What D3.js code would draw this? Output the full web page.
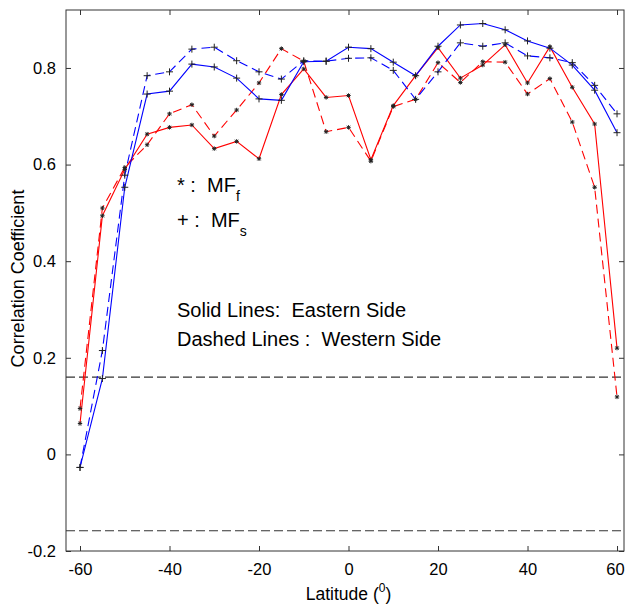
<!DOCTYPE html>
<html>
<head>
<meta charset="utf-8">
<script src="https://cdn.jsdelivr.net/npm/d3@7"></script>
<style>
  html, body { margin: 0; padding: 0; background: #fff; }
  svg { display: block; font-family: "Liberation Sans", Arial, Helvetica, sans-serif; }
  text { white-space: pre; }
</style>
</head>
<body>
<svg id="chart" width="625" height="607"></svg>
<script>
// Latitudes (degrees) at which correlations were computed
const latitudes = [-60, -55, -50, -45, -40, -35, -30, -25, -20, -15, -10, -5, 0,
                   5, 10, 15, 20, 25, 30, 35, 40, 45, 50, 55, 60];

// MF_s, eastern side (solid blue, "+" markers)
const mfsEast = [-0.027, 0.157, 0.553, 0.746, 0.752, 0.808, 0.802, 0.779, 0.736, 0.733,
                 0.813, 0.814, 0.843, 0.840, 0.812, 0.784, 0.845, 0.889, 0.892, 0.879,
                 0.856, 0.841, 0.806, 0.754, 0.666];
// MF_s, western side (dashed blue, "+" markers)
const mfsWest = [-0.027, 0.215, 0.578, 0.784, 0.792, 0.839, 0.843, 0.815, 0.792, 0.777,
                 0.815, 0.814, 0.820, 0.821, 0.795, 0.735, 0.792, 0.852, 0.845, 0.852,
                 0.825, 0.821, 0.811, 0.764, 0.705];
// MF_f, eastern side (solid red, "*" markers)
const mffEast = [0.064, 0.494, 0.590, 0.663, 0.677, 0.682, 0.633, 0.648, 0.612, 0.745,
                 0.798, 0.739, 0.743, 0.610, 0.722, 0.784, 0.842, 0.779, 0.806, 0.848,
                 0.769, 0.844, 0.760, 0.684, 0.220];
// MF_f, western side (dashed red, "*" markers)
const mffWest = [0.095, 0.510, 0.594, 0.641, 0.705, 0.724, 0.659, 0.713, 0.769, 0.840,
                 0.814, 0.668, 0.677, 0.607, 0.720, 0.735, 0.811, 0.770, 0.813, 0.812,
                 0.746, 0.778, 0.688, 0.553, 0.119];

// Significance levels (horizontal dashed reference lines)
const significance = [0.16, -0.158];

const xTicks = [-60, -40, -20, 0, 20, 40, 60];
const yTicks = [-0.2, 0, 0.2, 0.4, 0.6, 0.8];

const svg = d3.select("#chart");
const plotLeft = 66, plotRight = 624, plotTop = 10, plotBottom = 551;

const x = d3.scaleLinear().domain([-63.13, 61.56]).range([plotLeft, plotRight]);
const y = d3.scaleLinear().domain([-0.2, 0.92]).range([plotBottom, plotTop]);

const axisColor = "#333";
// Plain hyphen-minus for negative tick labels
const fmtX = d => String(d);
const fmtY = d => (d === 0 ? "0" : d.toFixed(1));

// Axes with inward ticks on all four sides
const gx = svg.append("g").attr("transform", `translate(0,${plotBottom})`)
  .call(d3.axisBottom(x).tickValues(xTicks).tickSize(-5).tickPadding(12).tickFormat(fmtX));
const gxTop = svg.append("g").attr("transform", `translate(0,${plotTop})`)
  .call(d3.axisTop(x).tickValues(xTicks).tickSize(-5).tickFormat(""));
const gy = svg.append("g").attr("transform", `translate(${plotLeft},0)`)
  .call(d3.axisLeft(y).tickValues(yTicks).tickSize(-5).tickPadding(10).tickFormat(fmtY));
const gyRight = svg.append("g").attr("transform", `translate(${plotRight},0)`)
  .call(d3.axisRight(y).tickValues(yTicks).tickSize(-5).tickFormat(""));

[gx, gxTop, gy, gyRight].forEach(g => {
  g.select(".domain").remove();
  g.selectAll(".tick line").attr("stroke", axisColor);
  g.selectAll("text").attr("fill", "#000").style("font-size", "16.5px")
    .style("font-family", "'Liberation Sans', Arial, sans-serif");
});
// keep the rightmost label inside the page edge
gx.selectAll(".tick text").filter(d => d === 60).attr("dx", -2);

svg.append("rect")
  .attr("x", plotLeft).attr("y", plotTop)
  .attr("width", plotRight - plotLeft).attr("height", plotBottom - plotTop)
  .attr("fill", "none").attr("stroke", axisColor).attr("stroke-width", 1);

// Significance lines
svg.selectAll("line.sig").data(significance).enter().append("line")
  .attr("class", "sig")
  .attr("x1", plotLeft).attr("x2", plotRight)
  .attr("y1", d => y(d)).attr("y2", d => y(d))
  .attr("stroke", "#333").attr("stroke-width", 1.1)
  .attr("stroke-dasharray", "9,4");

const series = [
  { values: mffWest, color: "#ff0000", dash: "9,5", marker: "star" },
  { values: mffEast, color: "#ff0000", dash: null, marker: "star" },
  { values: mfsWest, color: "#0000ff", dash: "9,5", marker: "plus" },
  { values: mfsEast, color: "#0000ff", dash: null, marker: "plus" }
];

const line = d3.line().x(d => x(d[0])).y(d => y(d[1]));

series.forEach(s => {
  const pts = latitudes.map((lat, i) => [lat, s.values[i]]);
  svg.append("path")
    .datum(pts)
    .attr("d", line)
    .attr("fill", "none")
    .attr("stroke", s.color)
    .attr("stroke-width", 1.1)
    .attr("stroke-dasharray", s.dash);
});

// Markers
function plusPath(cx, cy, r) {
  return `M${cx - r},${cy}H${cx + r}M${cx},${cy - r}V${cy + r}`;
}
function starPath(cx, cy, r) {
  const d = r * 0.75;
  return plusPath(cx, cy, r) + `M${cx - d},${cy - d}L${cx + d},${cy + d}M${cx - d},${cy + d}L${cx + d},${cy - d}`;
}

series.forEach(s => {
  svg.append("g").selectAll("path")
    .data(latitudes.map((lat, i) => [lat, s.values[i]]))
    .enter().append("path")
    .attr("d", d => s.marker === "plus" ? plusPath(x(d[0]), y(d[1]), 3.5) : starPath(x(d[0]), y(d[1]), 2.2))
    .attr("fill", "none")
    .attr("stroke", "#222")
    .attr("stroke-width", 1);
});

// Annotations
const note = svg.append("g").style("font-size", "20px").attr("fill", "#000");
const t1 = note.append("text").attr("x", 177).attr("y", 192);
t1.append("tspan").text("* :  MF");
t1.append("tspan").attr("dy", 9).style("font-size", "14px").text("f");
const t2 = note.append("text").attr("x", 177).attr("y", 227);
t2.append("tspan").text("+ :  MF");
t2.append("tspan").attr("dy", 9).style("font-size", "14px").text("s");
note.append("text").attr("x", 177).attr("y", 317).text("Solid Lines:  Eastern Side");
note.append("text").attr("x", 177).attr("y", 346).text("Dashed Lines :  Western Side");

// Axis titles
const xl = svg.append("text")
  .attr("x", (x(-60) + x(60)) / 2).attr("y", 600)
  .attr("text-anchor", "middle").style("font-size", "17.5px");
xl.append("tspan").text("Latitude (");
xl.append("tspan").attr("dy", -8).style("font-size", "12px").text("0");
xl.append("tspan").attr("dy", 8).text(")");

svg.append("text")
  .attr("transform", `translate(24,${(plotTop + plotBottom) / 2 - 2}) rotate(-90)`)
  .attr("text-anchor", "middle").style("font-size", "18px")
  .text("Correlation Coefficient");
</script>
</body>
</html>
